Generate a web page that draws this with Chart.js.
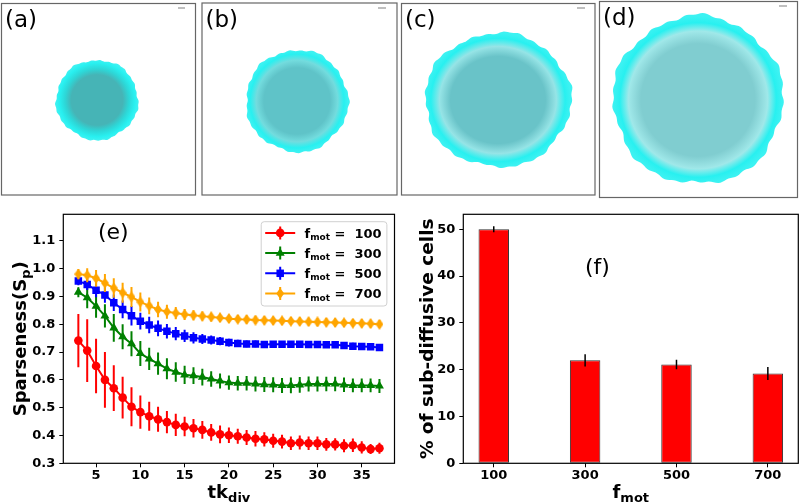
<!DOCTYPE html>
<html><head><meta charset="utf-8">
<script src="https://cdn.jsdelivr.net/npm/chart.js@4.4.1/dist/chart.umd.min.js"></script>
<style>
html,body{margin:0;padding:0;background:#fff;}
body{width:800px;height:504px;position:relative;overflow:hidden;}
#top{position:absolute;left:0;top:0;}
.box{position:absolute;top:200px;width:400px;height:304px;}
</style></head><body>
<canvas id="top" width="800" height="200"></canvas>
<div class="box" style="left:0"><canvas id="chartE"></canvas></div>
<div class="box" style="left:400px"><canvas id="chartF"></canvas></div>
<script>
// ---------------- data ----------------
const tkDiv = [3,4,5,6,7,8,9,10,11,12,13,14,15,16,17,18,19,20,21,22,23,24,25,26,27,28,29,30,31,32,33,34,35,36,37];
const sp100  = [0.741,0.705,0.650,0.600,0.570,0.536,0.503,0.484,0.469,0.458,0.448,0.438,0.432,0.426,0.420,0.411,0.404,0.401,0.397,0.393,0.388,0.386,0.381,0.378,0.372,0.375,0.372,0.372,0.368,0.368,0.363,0.365,0.357,0.351,0.354];
const err100 = [0.096,0.113,0.098,0.100,0.082,0.075,0.070,0.060,0.052,0.045,0.040,0.040,0.035,0.033,0.032,0.030,0.032,0.028,0.027,0.027,0.028,0.026,0.025,0.025,0.024,0.025,0.024,0.024,0.023,0.022,0.023,0.024,0.022,0.018,0.020];
const sp300  = [0.915,0.895,0.865,0.830,0.787,0.755,0.730,0.695,0.675,0.658,0.640,0.628,0.618,0.615,0.610,0.603,0.596,0.590,0.588,0.588,0.585,0.583,0.582,0.580,0.580,0.582,0.585,0.585,0.585,0.585,0.582,0.580,0.580,0.580,0.578];
const err300 = [0.018,0.038,0.042,0.042,0.050,0.045,0.045,0.045,0.040,0.040,0.038,0.035,0.033,0.030,0.030,0.028,0.027,0.026,0.026,0.026,0.027,0.027,0.027,0.027,0.028,0.028,0.027,0.027,0.026,0.026,0.026,0.025,0.025,0.025,0.025];
const sp500  = [0.955,0.943,0.922,0.905,0.877,0.853,0.830,0.811,0.797,0.785,0.775,0.766,0.758,0.751,0.747,0.743,0.739,0.734,0.731,0.729,0.729,0.727,0.728,0.728,0.728,0.728,0.727,0.727,0.726,0.726,0.723,0.721,0.720,0.719,0.716];
const err500 = [0.015,0.020,0.025,0.028,0.030,0.032,0.035,0.030,0.030,0.028,0.026,0.024,0.022,0.020,0.018,0.016,0.015,0.014,0.013,0.012,0.012,0.012,0.012,0.012,0.012,0.012,0.012,0.012,0.012,0.012,0.012,0.012,0.012,0.012,0.012];
const sp700  = [0.980,0.976,0.965,0.948,0.930,0.913,0.898,0.880,0.866,0.853,0.845,0.840,0.835,0.832,0.829,0.826,0.823,0.820,0.818,0.817,0.815,0.814,0.813,0.812,0.811,0.810,0.809,0.808,0.807,0.806,0.805,0.804,0.803,0.802,0.800];
const err700 = [0.018,0.025,0.030,0.032,0.035,0.036,0.036,0.034,0.030,0.028,0.025,0.022,0.020,0.018,0.017,0.016,0.015,0.015,0.015,0.015,0.015,0.015,0.015,0.015,0.015,0.015,0.015,0.015,0.015,0.015,0.015,0.015,0.015,0.015,0.015];
const fmotLabels = ['100','300','500','700'];
const fmotValues = [100,300,500,700];
const subDiffPct = [50.0,22.0,21.1,19.2];
const subDiffErr = [0.65,1.3,1.0,1.4];
const tkTicks = [5,10,15,20,25,30,35];
const spTicks = [0.3,0.4,0.5,0.6,0.7,0.8,0.9,1.0,1.1];
const pctTicks = [0,10,20,30,40,50];
const panelLabels = ['(a)','(b)','(c)','(d)'];

// ---------------- snapshots (a)-(d) ----------------
const FONT = '"DejaVu Sans", sans-serif';
(function drawTop(){
  const c = document.getElementById('top');
  const ctx = c.getContext('2d');
  const panels = [
    {x:1.5,y:3.5,w:194,h:191.5, cx:97, cy:100, rx:41, ry:40, ring:0.78, inner:'rgb(70,180,182)', mid:'rgb(45,215,215)', dash:[178,185,8]},
    {x:202,y:3,w:195,h:192,     cx:297,cy:101, rx:51, ry:51, ring:0.80, inner:'rgb(95,195,200)', mid:'rgb(115,220,222)', dash:[378,386,8]},
    {x:401.5,y:3.5,w:193.5,h:191.5, cx:498,cy:100, rx:73, ry:67, ring:0.80, inner:'rgb(105,195,200)', mid:'rgb(150,228,230)', dash:[577,585,8]},
    {x:599.5,y:1.5,w:198,h:196, cx:698,cy:100, rx:85, ry:84, ring:0.82, inner:'rgb(128,205,208)', mid:'rgb(160,232,233)', dash:[779,787,6]}
  ];
  panels.forEach((p,k)=>{
    ctx.fillStyle='#fff'; ctx.fillRect(p.x,p.y,p.w,p.h);
    ctx.save();
    ctx.translate(p.cx,p.cy); ctx.scale(1,p.ry/p.rx);
    ctx.beginPath();
    for(let i=0;i<=240;i++){
      const t=i/240*2*Math.PI;
      const f=1+0.018*Math.sin(5*t+k)+0.012*Math.sin(11*t+2*k)+0.01*Math.sin(29*t+1);
      const X=Math.cos(t)*p.rx*f, Y=Math.sin(t)*p.rx*f;
      if(i===0) ctx.moveTo(X,Y); else ctx.lineTo(X,Y);
    }
    ctx.closePath();
    const g=ctx.createRadialGradient(0,0,0,0,0,p.rx);
    g.addColorStop(0,p.inner); g.addColorStop(p.ring-0.15,p.inner);
    g.addColorStop(p.ring,p.mid); g.addColorStop(0.92,'rgb(40,240,240)'); g.addColorStop(1,'rgb(60,242,242)');
    ctx.fillStyle=g; ctx.fill();
    ctx.restore();
    // frame
    ctx.strokeStyle='#666'; ctx.lineWidth=1.2; ctx.strokeRect(p.x,p.y,p.w,p.h);
    // scale dash
    ctx.strokeStyle='#aaa'; ctx.lineWidth=1.5; ctx.beginPath(); ctx.moveTo(p.dash[0],p.dash[2]); ctx.lineTo(p.dash[1],p.dash[2]); ctx.stroke();
    // label
    ctx.fillStyle='#000'; ctx.font='23px '+FONT; ctx.textAlign='left'; ctx.textBaseline='alphabetic';
    ctx.fillText(panelLabels[k], p.x+3.5, p.y+23.5);
  });
})();

// ---------------- helpers ----------------
function drawRuns(ctx, runs, cx, y){
  let total=0;
  runs.forEach(r=>{ctx.font=r[1]; total+=ctx.measureText(r[0]).width;});
  let x=cx-total/2;
  ctx.textAlign='left'; ctx.textBaseline='alphabetic';
  runs.forEach(r=>{ctx.font=r[1]; ctx.fillText(r[0],x,y+r[2]); x+=ctx.measureText(r[0]).width;});
}
function drawRunsLeft(ctx, runs, x, y){
  ctx.textAlign='left'; ctx.textBaseline='alphabetic';
  runs.forEach(r=>{ctx.font=r[1]; ctx.fillText(r[0],x,y+r[2]); x+=ctx.measureText(r[0]).width;});
}
function marker(ctx, style, x, y, r, color){
  ctx.fillStyle=color; ctx.beginPath();
  if(style==='circle') ctx.arc(x,y,r,0,2*Math.PI);
  else if(style==='triangle'){ctx.moveTo(x,y-r);ctx.lineTo(x+r*0.866,y+r*0.5);ctx.lineTo(x-r*0.866,y+r*0.5);ctx.closePath();}
  else if(style==='rect'){const s=r*Math.SQRT1_2;ctx.rect(x-s,y-s,2*s,2*s);}
  else {ctx.moveTo(x,y-5.5);ctx.lineTo(x+4,y);ctx.lineTo(x,y+5.5);ctx.lineTo(x-4,y);ctx.closePath();}
  ctx.fill();
}
const diamondImg=document.createElement('canvas'); diamondImg.width=8; diamondImg.height=11;
(function(){const d=diamondImg.getContext('2d');d.fillStyle='#ffa500';d.beginPath();d.moveTo(4,0);d.lineTo(8,5.5);d.lineTo(4,11);d.lineTo(0,5.5);d.closePath();d.fill();})();

const tickFont={family:'DejaVu Sans',size:13,weight:'bold'};
const B18='bold 18px '+FONT, B13='bold 13px '+FONT, B185='bold 18.5px '+FONT;

// ---------------- chart (e) ----------------
const seriesDefs=[
  {label:'100',vals:sp100,errs:err100,color:'#ff0000',style:'circle',r:4.3},
  {label:'300',vals:sp300,errs:err300,color:'#008000',style:'triangle',r:5.2},
  {label:'500',vals:sp500,errs:err500,color:'#0000ff',style:'rect',r:5.3},
  {label:'700',vals:sp700,errs:err700,color:'#ffa500',style:'diamond',r:5.5}
];
const errPluginE={id:'errE',beforeDatasetDraw(chart,args){
  const ds=chart.data.datasets[args.index]; if(!ds.errs) return;
  const xs=chart.scales.x, ys=chart.scales.y, ctx=chart.ctx;
  ctx.save(); ctx.strokeStyle=ds.borderColor; ctx.lineWidth=2; ctx.beginPath();
  ds.data.forEach((p,i)=>{const px=xs.getPixelForValue(p.x);
    ctx.moveTo(px,ys.getPixelForValue(p.y-ds.errs[i])); ctx.lineTo(px,ys.getPixelForValue(p.y+ds.errs[i]));});
  ctx.stroke(); ctx.restore();
}};
const textPluginE={id:'textE',afterDraw(chart){
  const ctx=chart.ctx,a=chart.chartArea;
  ctx.save();
  ctx.strokeStyle='#000'; ctx.lineWidth=1.2; ctx.strokeRect(a.left,a.top,a.right-a.left,a.bottom-a.top);
  ctx.fillStyle='#000';
  ctx.font='22px '+FONT; ctx.textAlign='left'; ctx.textBaseline='middle'; ctx.fillText('(e)',98,33);
  drawRuns(ctx,[['tk',B18,0],['div',B13,4]],(a.left+a.right)/2,298);
  // legend
  const L=a.right-133.3, T=a.top+7.4, W=125.7, H=84.3;
  ctx.fillStyle='rgba(255,255,255,0.85)'; ctx.strokeStyle='#d0d0d0'; ctx.lineWidth=1;
  ctx.beginPath(); ctx.roundRect(L,T,W,H,3); ctx.fill(); ctx.stroke();
  seriesDefs.forEach((s,i)=>{
    const y=a.top+18.6+i*20.2;
    ctx.strokeStyle=s.color; ctx.lineWidth=2;
    ctx.beginPath(); ctx.moveTo(L+4,y); ctx.lineTo(L+34,y); ctx.moveTo(L+19,y-6.5); ctx.lineTo(L+19,y+6.5); ctx.stroke();
    marker(ctx,s.style,L+19,y,s.r,s.color);
    ctx.fillStyle='#000';
    drawRunsLeft(ctx,[['f','bold 13px '+FONT,0],['mot','bold 9px '+FONT,2.5],[' =  '+s.label,'bold 13px '+FONT,0]],L+43.3,y+4.6);
  });
  // y title
  ctx.fillStyle='#000';
  ctx.translate(26,(a.top+a.bottom)/2); ctx.rotate(-Math.PI/2);
  drawRuns(ctx,[['Sparseness(S',B18,0],['p',B13,4],[')',B18,0]],0,0);
  ctx.restore();
}};
new Chart(document.getElementById('chartE'),{
  type:'line',
  data:{datasets:seriesDefs.map((s,i)=>({
    label:s.label, data:tkDiv.map((x,j)=>({x:x,y:s.vals[j]})), errs:s.errs,
    borderColor:s.color, backgroundColor:s.color, pointBackgroundColor:s.color, pointBorderColor:s.color,
    pointBorderWidth:0, pointStyle:s.style==='diamond'?diamondImg:s.style, pointRadius:s.r,
    borderWidth:2, tension:0, order:4-i, clip:8
  }))},
  options:{
    animation:false, responsive:true, maintainAspectRatio:false, devicePixelRatio:1,
    layout:{padding:{left:0,right:1.7,top:14.3,bottom:0}},
    plugins:{legend:{display:false},tooltip:{enabled:false}},
    scales:{
      x:{type:'linear',min:1.3,max:38.7,
        afterBuildTicks:s=>{s.ticks=tkTicks.map(v=>({value:v}));},
        afterFit:s=>{s.height=40.7;},
        ticks:{font:tickFont,color:'#000',padding:1,maxRotation:0,autoSkip:false},
        grid:{display:true,drawOnChartArea:false,tickLength:4,color:'#000',lineWidth:1},
        border:{display:false}},
      y:{type:'linear',min:0.3,max:1.195,
        afterBuildTicks:s=>{s.ticks=spTicks.map(v=>({value:v}));},
        afterFit:s=>{s.width=63.3;},
        ticks:{font:tickFont,color:'#000',padding:4,callback:v=>Number(v).toFixed(1),autoSkip:false},
        grid:{display:true,drawOnChartArea:false,tickLength:4,color:'#000',lineWidth:1},
        border:{display:false}}
    }
  },
  plugins:[errPluginE,textPluginE]
});

// ---------------- chart (f) ----------------
const errPluginF={id:'errF',afterDatasetsDraw(chart){
  const ds=chart.data.datasets[0], xs=chart.scales.x, ys=chart.scales.y, ctx=chart.ctx;
  ctx.save(); ctx.strokeStyle='#000'; ctx.lineWidth=1.5; ctx.beginPath();
  ds.data.forEach((p,i)=>{const px=xs.getPixelForValue(p.x);
    ctx.moveTo(px,ys.getPixelForValue(p.y-subDiffErr[i])); ctx.lineTo(px,ys.getPixelForValue(p.y+subDiffErr[i]));});
  ctx.stroke(); ctx.restore();
}};
const textPluginF={id:'textF',afterDraw(chart){
  const ctx=chart.ctx,a=chart.chartArea;
  ctx.save();
  ctx.strokeStyle='#000'; ctx.lineWidth=1.2; ctx.strokeRect(a.left,a.top,a.right-a.left,a.bottom-a.top);
  ctx.fillStyle='#000';
  ctx.font='22px '+FONT; ctx.textAlign='left'; ctx.textBaseline='middle'; ctx.fillText('(f)',185,68);
  drawRuns(ctx,[['f',B18,0],['mot',B13,4]],(a.left+a.right)/2,298);
  ctx.translate(32.5,(a.top+a.bottom)/2); ctx.rotate(-Math.PI/2);
  drawRuns(ctx,[['% of sub-diffusive cells',B185,0]],0,0);
  ctx.restore();
}};
new Chart(document.getElementById('chartF'),{
  type:'bar',
  data:{datasets:[{label:'sub-diffusive',data:fmotValues.map((x,i)=>({x:x,y:subDiffPct[i]})),
    backgroundColor:'#ff0000',borderColor:'#333333',borderWidth:1,borderSkipped:false,
    barPercentage:1/3,categoryPercentage:1}]},
  options:{
    animation:false, responsive:true, maintainAspectRatio:false, devicePixelRatio:1,
    layout:{padding:{left:0,right:1.7,top:14.3,bottom:0}},
    plugins:{legend:{display:false},tooltip:{enabled:false}},
    scales:{
      x:{type:'linear',min:33.33,max:766.67,offset:false,
        afterBuildTicks:s=>{s.ticks=fmotValues.map(v=>({value:v}));},
        afterFit:s=>{s.height=40.7;},
        ticks:{font:tickFont,color:'#000',padding:1,maxRotation:0,autoSkip:false,callback:(v,i)=>fmotLabels[fmotValues.indexOf(v)]},
        grid:{display:true,offset:false,drawOnChartArea:false,tickLength:4,color:'#000',lineWidth:1},
        border:{display:false}},
      y:{type:'linear',min:0,max:53.2,
        afterBuildTicks:s=>{s.ticks=pctTicks.map(v=>({value:v}));},
        afterFit:s=>{s.width=63.3;},
        ticks:{font:tickFont,color:'#000',padding:4,autoSkip:false},
        grid:{display:true,drawOnChartArea:false,tickLength:4,color:'#000',lineWidth:1},
        border:{display:false}}
    }
  },
  plugins:[errPluginF,textPluginF]
});
</script>
</body></html>
